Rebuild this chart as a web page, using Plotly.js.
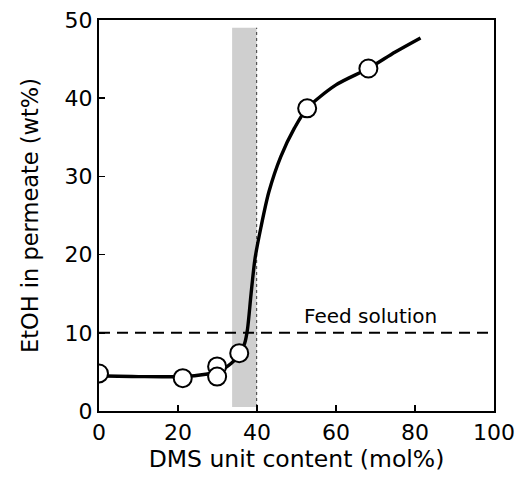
<!DOCTYPE html>
<html><head><meta charset="utf-8">
<script src="https://cdn.plot.ly/plotly-3.0.1.min.js"></script>
<style>body{margin:0;background:#fff}#c{width:527px;height:479px}</style>
</head><body><div id="c"></div>
<script>
// Measured data points
const ptX = [0, 21.2, 29.9, 29.9, 35.5, 52.7, 68.2];
const ptY = [4.8, 4.2, 5.7, 4.4, 7.4, 38.7, 43.8];
// Traced fitted curve
const curveX = [0, 10, 21, 27, 30.5, 33.5, 35.7, 36.9, 37.6, 38.5, 39.5, 41, 43, 46, 49.5, 52.7, 60, 68.2, 75, 81.4];
const curveY = [4.5, 4.4, 4.4, 4.7, 5.1, 6.1, 7.3, 8.7, 10.5, 15, 19.5, 23.5, 28, 32.5, 36.2, 38.7, 41.7, 43.8, 45.9, 47.7];
// Feed solution level
const feedX = [0, 100];
const feedY = [10, 10];
const feedLabel = "Feed solution";
// Transition band
const bandX = [33.7, 39.9];
const bandY = [0.5, 49];
const xTicks = [0, 20, 40, 60, 80, 100];
const yTicks = [0, 10, 20, 30, 40, 50];

const font = "'DejaVu Sans', sans-serif";
const traces = [
  {x: feedX, y: feedY, mode: "lines", line: {color: "#000", width: 2, dash: "11px,7px"}, hoverinfo: "skip"},
  {x: curveX, y: curveY, mode: "lines", line: {color: "#000", width: 3.4, shape: "spline", smoothing: 0.8}, hoverinfo: "skip"},
  {x: ptX, y: ptY, mode: "markers", marker: {size: 18, color: "#fff", line: {color: "#000", width: 2}}}
];
const layout = {
  width: 527, height: 479,
  margin: {l: 99, r: 33, t: 20, b: 68},
  paper_bgcolor: "#fff", plot_bgcolor: "#fff",
  showlegend: false,
  font: {family: font, color: "#000", size: 22},
  xaxis: {range: [0, 100], tickvals: xTicks, ticks: "inside", ticklen: 6, tickwidth: 1.5, tickcolor: "#000",
    showline: true, linewidth: 2, linecolor: "#000", mirror: true, showgrid: false, zeroline: false,
    tickfont: {size: 22, family: font}, ticklabelstandoff: 1,
    title: {text: "DMS unit content (mol%)", font: {size: 23.5, family: font}, standoff: 0}},
  yaxis: {range: [0, 50], tickvals: yTicks, ticks: "inside", ticklen: 6, tickwidth: 1.5, tickcolor: "#000",
    showline: true, linewidth: 2, linecolor: "#000", mirror: true, showgrid: false, zeroline: false,
    tickfont: {size: 22, family: font},
    title: {text: "EtOH in permeate (wt%)", font: {size: 22.5, family: font}, standoff: 20}},
  shapes: [
    {type: "rect", xref: "x", yref: "y", x0: bandX[0], x1: bandX[1], y0: bandY[0], y1: bandY[1],
     fillcolor: "#cfcfcf", line: {width: 0}, layer: "below"},
    {type: "line", xref: "x", yref: "y", x0: bandX[1], x1: bandX[1], y0: bandY[0], y1: bandY[1],
     line: {color: "#555", width: 1.2, dash: "dot"}, layer: "below"}
  ],
  annotations: [
    {x: 68.7, y: 10.3, xref: "x", yref: "y", text: feedLabel, showarrow: false, yanchor: "bottom",
     font: {size: 20, family: font}}
  ]
};
Plotly.newPlot("c", traces, layout, {staticPlot: true});
</script></body></html>
